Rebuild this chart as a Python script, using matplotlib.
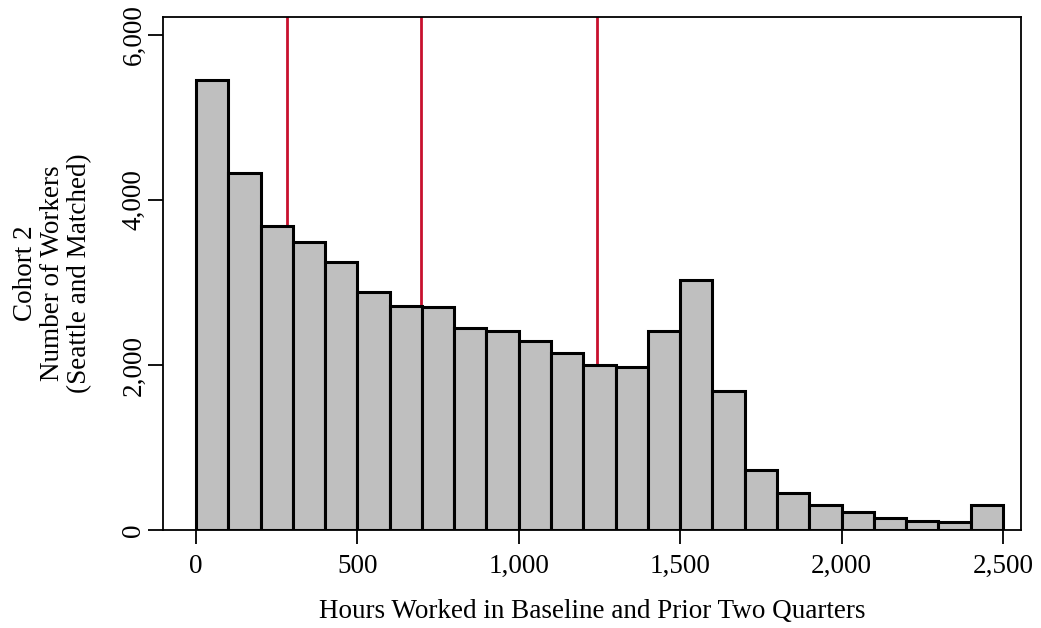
import matplotlib.pyplot as plt
import numpy as np

plt.rcParams['font.family'] = ['Liberation Serif', 'DejaVu Serif']

# histogram bins (hours) and counts
bin_edges = np.arange(0, 2600, 100)
counts = [5450, 4330, 3690, 3490, 3250, 2890, 2710, 2700, 2450, 2410,
          2290, 2150, 2000, 1970, 2410, 3030, 1680, 725, 445, 300,
          215, 140, 110, 95, 300]
cutoffs = [282, 697, 1242]

xticks = [0, 500, 1000, 1500, 2000, 2500]
yticks = [0, 2000, 4000, 6000]

fig = plt.figure(figsize=(10.41, 6.28), dpi=100)
ax = fig.add_axes([0.1566, 0.156, 0.8242, 0.817])

for c in cutoffs:
    ax.axvline(c, color='#c8102e', lw=2, zorder=1)

ax.bar(bin_edges[:-1], counts, width=100, align='edge',
       color='#bfbfbf', edgecolor='black', linewidth=2.2, zorder=2)

ax.set_xlim(-102, 2556)
ax.set_ylim(0, 6218)
ax.set_xticks(xticks)
ax.set_xticklabels([f'{t:,}' for t in xticks], fontsize=19.5)
ax.set_yticks(yticks)
ax.set_yticklabels([f'{t:,}' for t in yticks], fontsize=19.5, rotation=90, va='center')
ax.tick_params(axis='x', direction='out', length=10, width=1.3, pad=7)
ax.tick_params(axis='y', direction='out', length=11, width=1.3, pad=1)

for s in ax.spines.values():
    s.set_linewidth(1.3)

ax.set_xlabel('Hours Worked in Baseline and Prior Two Quarters', fontsize=19.5, labelpad=15)
ax.set_ylabel('Cohort 2\nNumber of Workers\n(Seattle and Matched)', fontsize=19.5,
              labelpad=21, linespacing=1.1)

fig.savefig('out.png', dpi=100)
